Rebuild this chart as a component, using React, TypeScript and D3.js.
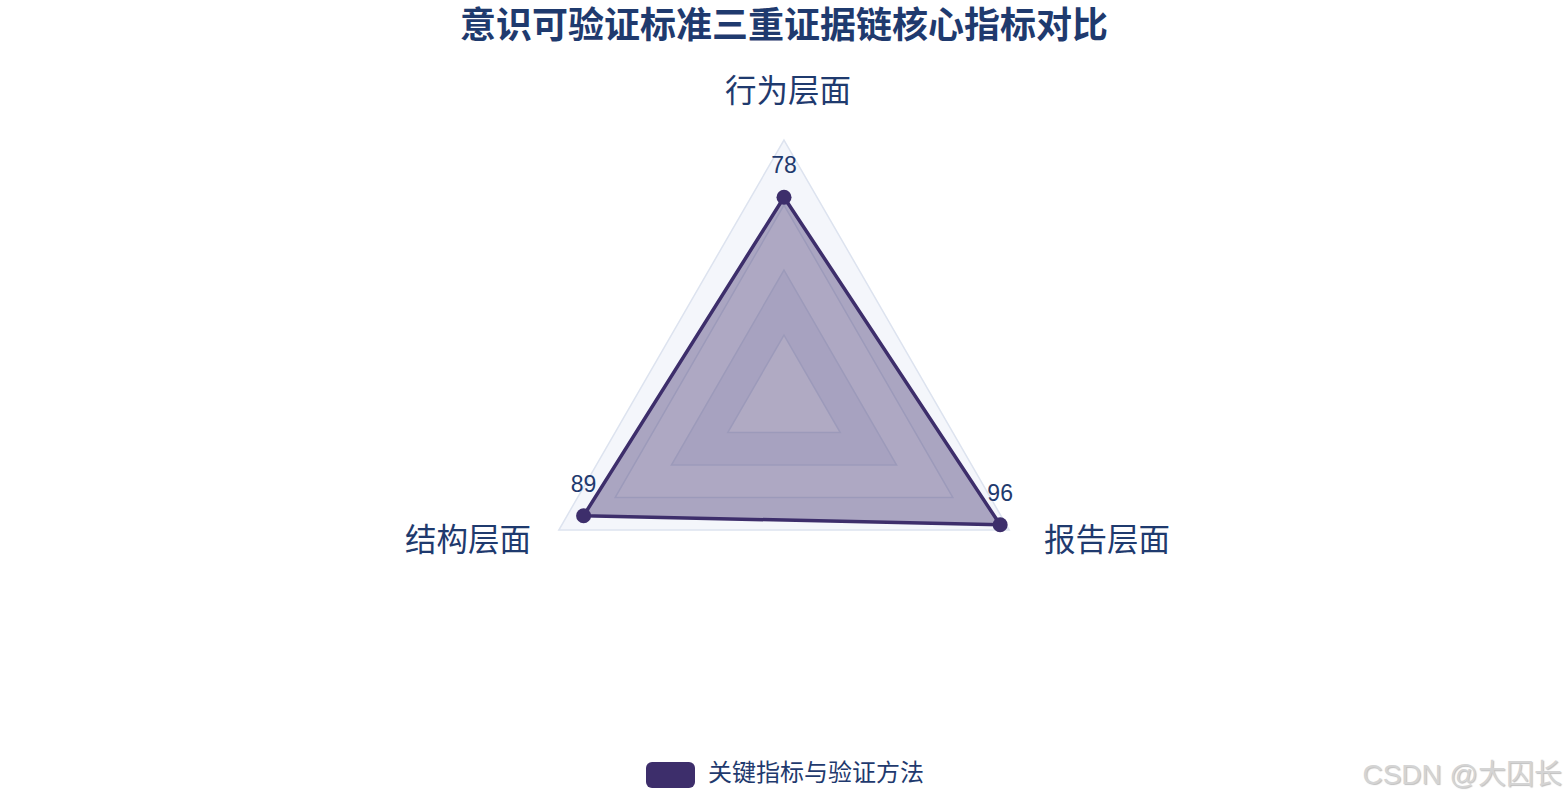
import React from "react";
import * as d3 from "d3";

const indicators = ["行为层面", "报告层面", "结构层面"];
const values = [78, 96, 89];
const maxValue = 100;
const splitLevels = [25, 50, 75, 100];
const seriesName = "关键指标与验证方法";
const titleText = "意识可验证标准三重证据链核心指标对比";

const W = 1568;
const H = 800;
const cx = 784;
const cy = 400;
const R = 260;
const mainColor = "#3d2e6b";
const textColor = "#1f3a6e";
const font = "'Liberation Sans', Arial, 'Noto Sans CJK SC', sans-serif";
const ringColors = ["#fdfdfe", "#eff0f8", "#fbfbfd", "#f4f6fb"];

export default function App() {
  const n = indicators.length;
  const angle = (i: number) => -Math.PI / 2 + (i * 2 * Math.PI) / n;
  const r = d3.scaleLinear().domain([0, maxValue]).range([0, R]);
  const pt = (i: number, v: number): [number, number] => [
    cx + r(v) * Math.cos(angle(i)),
    cy + r(v) * Math.sin(angle(i)),
  ];
  const line = d3.line<[number, number]>().curve(d3.curveLinearClosed);

  const ringPath = (v: number) => line(indicators.map((_, i) => pt(i, v))) as string;
  const dataPts = values.map((v, i) => pt(i, v));

  const nameDist = R + 32;
  return (
    <svg
      width={W}
      height={H}
      style={{ position: "absolute", left: 0, top: 0, background: "#fff" }}
      fontFamily={font}
    >
      <text x={cx} y={38} textAnchor="middle" fontSize={36} fontWeight="bold" fill={textColor}>
        {titleText}
      </text>
      {/* split areas, from outer to inner */}
      {splitLevels
        .map((lv, k) => ({ lv, k }))
        .reverse()
        .map(({ lv, k }) => (
          <path key={"a" + lv} d={ringPath(lv)} fill={ringColors[k]} stroke="none" />
        ))}
      {splitLevels.map((lv) => (
        <path key={"l" + lv} d={ringPath(lv)} fill="none" stroke="#dde3ef" strokeWidth={1.5} />
      ))}
      {/* data */}
      <path
        d={line(dataPts) as string}
        fill={mainColor}
        fillOpacity={0.4}
        stroke={mainColor}
        strokeWidth={3.5}
        strokeLinejoin="round"
      />
      {dataPts.map((p, i) => (
        <circle key={"c" + i} cx={p[0]} cy={p[1]} r={7.5} fill={mainColor} />
      ))}
      {dataPts.map((p, i) => (
        <text
          key={"v" + i}
          x={p[0]}
          y={p[1] - 24}
          textAnchor="middle"
          fontSize={23}
          fill={textColor}
        >
          {values[i]}
        </text>
      ))}
      {/* axis names */}
      {indicators.map((name, i) => {
        const a = angle(i);
        const x = cx + nameDist * Math.cos(a);
        const y = cy + nameDist * Math.sin(a);
        const c = Math.cos(a);
        const anchor = Math.abs(c) < 0.01 ? "middle" : c > 0 ? "start" : "end";
        const s = Math.sin(a);
        const dy = s < -0.5 ? -6 : -3;
        const dx = anchor === "middle" ? 4 : anchor === "start" ? 7 : 0;
        return (
          <text
            key={"n" + i}
            x={x + dx}
            y={y + dy}
            textAnchor={anchor}
            fontSize={31.5}
            fill={textColor}
            dominantBaseline={s < -0.5 ? "auto" : "middle"}
          >
            {name}
          </text>
        );
      })}
      {/* legend */}
      <rect x={646} y={762} width={49} height={26} rx={6} fill={mainColor} />
      <text x={708} y={775} dominantBaseline="middle" fontSize={24} fill={textColor}>
        {seriesName}
      </text>
      {/* watermark */}
      <text
        x={1562}
        y={784}
        textAnchor="end"
        fontSize={28}
        fill="#d4d4d4"
        style={{ textShadow: "1px 1px 1px rgba(0,0,0,0.25)" }}
      >
        CSDN @大囚长
      </text>
    </svg>
  );
}
